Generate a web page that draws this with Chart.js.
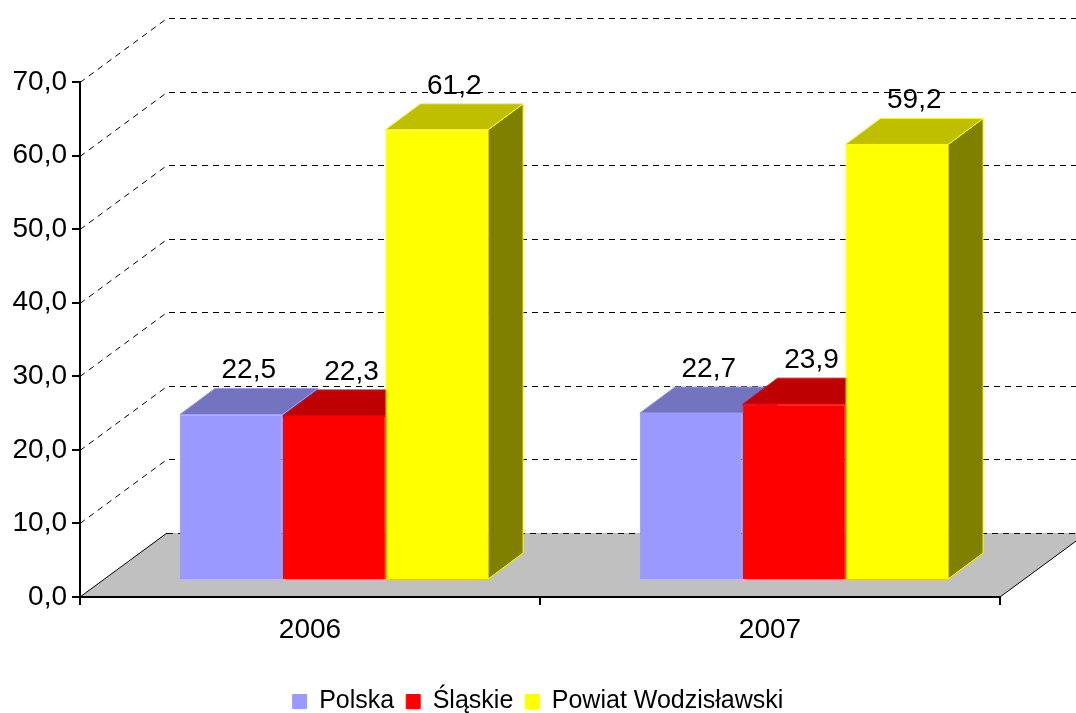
<!DOCTYPE html>
<html>
<head>
<meta charset="utf-8">
<script src="https://cdn.jsdelivr.net/npm/chart.js@4/dist/chart.umd.min.js"></script>
<style>
  body { margin: 0; background: #fff; }
</style>
</head>
<body>
<canvas id="chart" width="1076" height="713"></canvas>
<script>
const years = ['2006', '2007'];
const polska = [22.5, 22.7];
const slaskie = [22.3, 23.9];
const powiat = [61.2, 59.2];
const seriesNames = ['Polska', 'Śląskie', 'Powiat Wodzisławski'];
const seriesColors = ['#9999FF', '#FF0000', '#FFFF00'];

const FONT = "'Liberation Sans', Arial, sans-serif";
const fmt = v => Number(v).toFixed(1).replace('.', ',');

// 3D look: depth of the side wall/floor, where bar fronts sit, depth of a bar
const wall = { x: 87, y: -64 };
const front = { x: 24, y: -17 };
const depth = { x: 35, y: -26 };

function shade(hex, k) {
  const n = parseInt(hex.slice(1), 16);
  const r = Math.round(((n >> 16) & 255) * k);
  const g = Math.round(((n >> 8) & 255) * k);
  const b = Math.round((n & 255) * k);
  return `rgb(${r},${g},${b})`;
}

function poly(ctx, pts, fill, stroke) {
  ctx.beginPath();
  pts.forEach((p, i) => i ? ctx.lineTo(p[0], p[1]) : ctx.moveTo(p[0], p[1]));
  ctx.closePath();
  ctx.fillStyle = fill;
  ctx.fill();
  ctx.strokeStyle = stroke;
  ctx.lineWidth = 1;
  ctx.stroke();
}

const box3d = {
  id: 'box3d',
  beforeDraw(chart) {
    const { ctx, chartArea: a } = chart;
    const y = chart.scales.y;
    const y0 = y.getPixelForValue(0);
    ctx.save();
    // floor
    ctx.fillStyle = '#c0c0c0';
    ctx.beginPath();
    ctx.moveTo(a.left, y0);
    ctx.lineTo(a.right, y0);
    ctx.lineTo(a.right + wall.x, y0 + wall.y);
    ctx.lineTo(a.left + wall.x, y0 + wall.y);
    ctx.closePath();
    ctx.fill();
    // dashed gridlines on side + back wall
    ctx.strokeStyle = '#000';
    ctx.lineWidth = 1;
    ctx.setLineDash([6, 5]);
    y.ticks.forEach(t => {
      const py = Math.round(y.getPixelForValue(t.value)) + 0.5;
      ctx.beginPath();
      if (t.value > 0) {
        ctx.moveTo(a.left, py);
        ctx.lineTo(a.left + wall.x, py + wall.y);
      } else {
        ctx.moveTo(a.left + wall.x, py + wall.y);
      }
      ctx.lineTo(chart.width, py + wall.y);
      ctx.stroke();
    });
    ctx.setLineDash([]);
    ctx.beginPath();
    ctx.moveTo(a.left, y0);
    ctx.lineTo(a.left + wall.x, y0 + wall.y);
    ctx.moveTo(a.right, y0);
    ctx.lineTo(a.right + wall.x, y0 + wall.y);
    ctx.stroke();
    ctx.restore();
  },
  beforeDatasetsDraw(chart) {
    const ctx = chart.ctx;
    ctx.save();
    years.forEach((_, i) => {
      chart.data.datasets.forEach((ds, j) => {
        const el = chart.getDatasetMeta(j).data[i];
        const l = el.x - el.width / 2 + front.x;
        const r = el.x + el.width / 2 + front.x;
        const t = el.y + front.y;
        const b = el.base + front.y;
        // side face
        poly(ctx, [[r, t], [r + depth.x, t + depth.y], [r + depth.x, b + depth.y], [r, b]],
          shade(ds.backgroundColor, 0.5), ds.borderColor);
        // top face
        poly(ctx, [[l, t], [r, t], [r + depth.x, t + depth.y], [l + depth.x, t + depth.y]],
          shade(ds.backgroundColor, 0.75), ds.borderColor);
      });
    });
    // front faces are drawn by Chart.js, moved into the bar plane
    ctx.translate(front.x, front.y);
  },
  afterDatasetsDraw(chart) {
    const ctx = chart.ctx;
    ctx.restore();
    ctx.save();
    ctx.fillStyle = '#000';
    ctx.font = `28px ${FONT}`;
    ctx.textAlign = 'center';
    ctx.textBaseline = 'alphabetic';
    chart.data.datasets.forEach((ds, j) => {
      chart.getDatasetMeta(j).data.forEach((el, i) => {
        const x = el.x + front.x + depth.x / 2;
        const y = el.y + front.y + depth.y - 10;
        ctx.fillText(fmt(ds.data[i]), x, y);
      });
    });
    ctx.restore();
  }
};

const seriesData = [polska, slaskie, powiat];

new Chart(document.getElementById('chart'), {
  type: 'bar',
  data: {
    labels: years,
    datasets: seriesNames.map((name, j) => ({
      label: name,
      data: seriesData[j],
      backgroundColor: seriesColors[j],
      borderColor: seriesColors[j],
      borderWidth: 1,
      categoryPercentage: 0.67,
      barPercentage: 1,
      clip: false
    }))
  },
  options: {
    responsive: false,
    animation: false,
    layout: { padding: { top: 82, right: 0, bottom: -11, left: 0 } },
    plugins: {
      legend: {
        position: 'bottom',
        labels: {
          boxWidth: 14,
          boxHeight: 14,
          padding: 12,
          color: '#000',
          font: { family: FONT, size: 25 }
        }
      },
      tooltip: { enabled: false }
    },
    scales: {
      x: {
        grid: { offset: true, drawOnChartArea: false, tickLength: 8, color: '#000', lineWidth: 2 },
        border: { color: '#000', width: 2 },
        ticks: { color: '#000', padding: 8, font: { family: FONT, size: 28 } },
        afterFit: s => { s.height = 80; }
      },
      y: {
        min: 0,
        max: 70,
        grid: { drawOnChartArea: false, tickLength: 8, color: '#000', lineWidth: 2 },
        border: { color: '#000', width: 2 },
        ticks: {
          stepSize: 10,
          padding: 5,
          color: '#000',
          font: { family: FONT, size: 28 },
          callback: v => fmt(v)
        },
        afterFit: s => { s.width = 80; }
      },
      // empty right-hand strip so the plot ends short of the canvas edge
      pad: {
        type: 'linear',
        position: 'right',
        grid: { display: false },
        border: { display: false },
        ticks: { display: false },
        afterFit: s => { s.width = 76; }
      }
    }
  },
  plugins: [box3d]
});
</script>
</body>
</html>
